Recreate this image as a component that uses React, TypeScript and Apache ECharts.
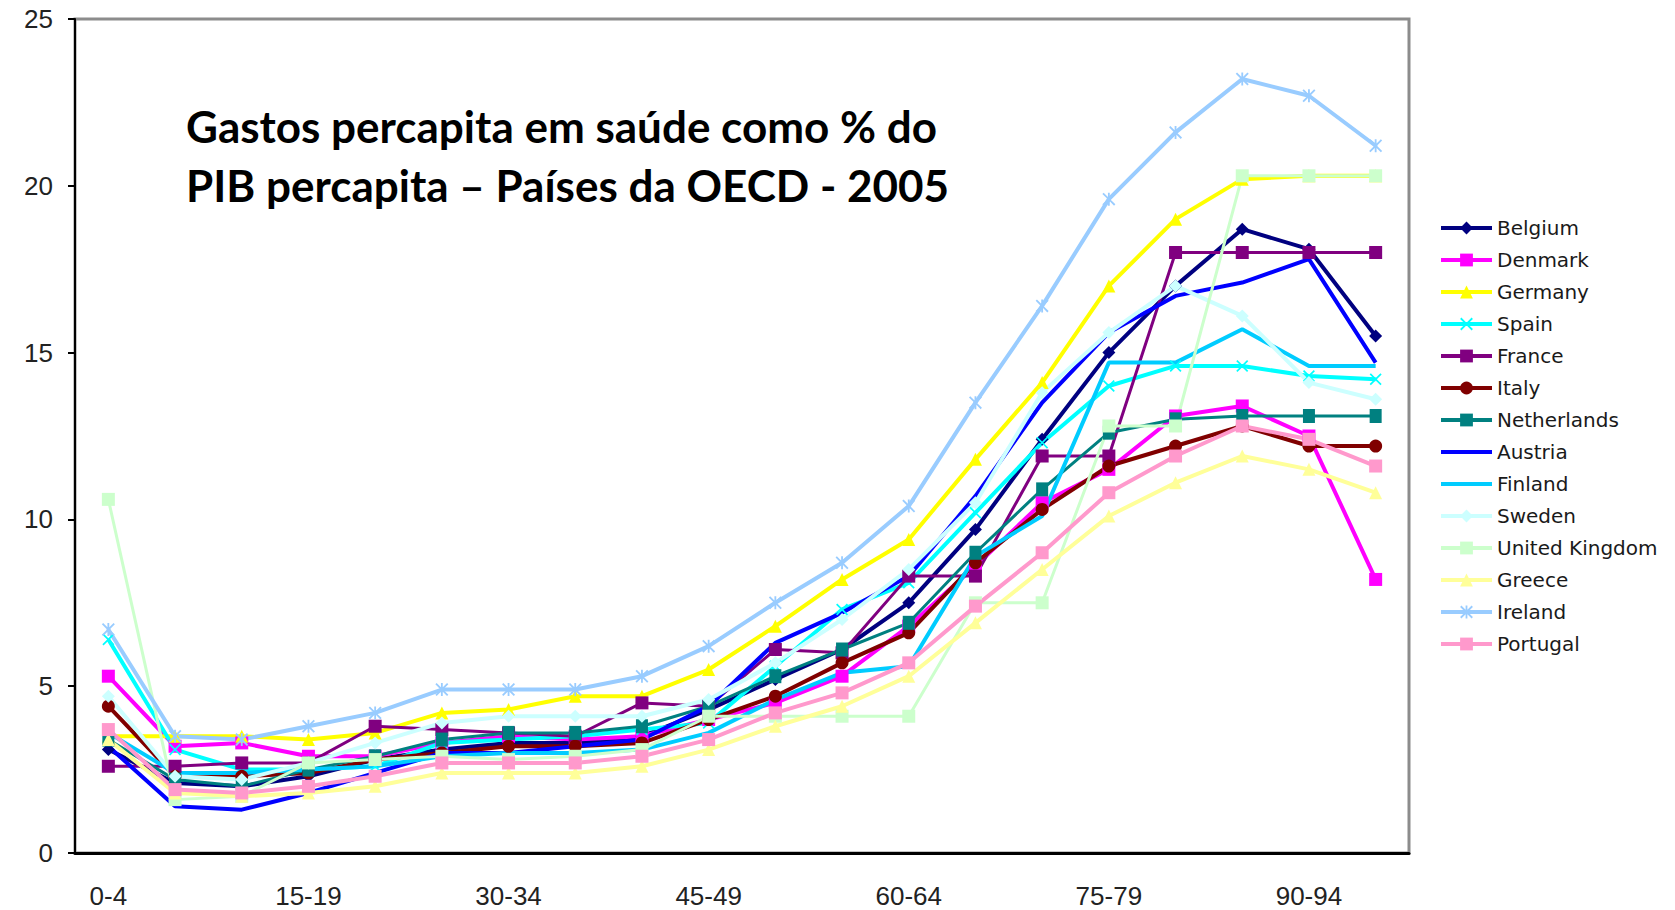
import React, { useEffect, useRef } from "react";
import * as echarts from "echarts";

const categories = [
  "0-4", "5-9", "10-14", "15-19", "20-24", "25-29", "30-34", "35-39", "40-44", "45-49",
  "50-54", "55-59", "60-64", "65-69", "70-74", "75-79", "80-84", "85-89", "90-94", "95+",
];
const yTicks = { min: 0, max: 25, interval: 5 };

const belgium = [3.1, 2.1, 2.0, 2.3, 2.8, 3.1, 3.3, 3.3, 3.5, 4.3, 5.2, 6.1, 7.5, 9.7, 12.4, 15.0, 17.0, 18.7, 18.1, 15.5];
const denmark = [5.3, 3.2, 3.3, 2.9, 2.9, 3.3, 3.5, 3.4, 3.5, 4.0, 4.5, 5.3, 6.8, 8.6, 10.5, 11.5, 13.1, 13.4, 12.5, 8.2];
const germany = [3.5, 3.5, 3.5, 3.4, 3.6, 4.2, 4.3, 4.7, 4.7, 5.5, 6.8, 8.2, 9.4, 11.8, 14.1, 17.0, 19.0, 20.2, 20.3, 20.3];
const spain = [6.4, 3.1, 2.5, 2.5, 2.6, 3.3, 3.4, 3.5, 3.7, 3.9, 5.6, 7.3, 8.1, 10.2, 12.3, 14.0, 14.6, 14.6, 14.3, 14.2];
const france = [2.6, 2.6, 2.7, 2.7, 3.8, 3.7, 3.6, 3.5, 4.5, 4.4, 6.1, 6.0, 8.3, 8.3, 11.9, 11.9, 18.0, 18.0, 18.0, 18.0];
const italy = [4.4, 2.3, 2.3, 2.4, 2.8, 3.0, 3.2, 3.2, 3.3, 4.0, 4.7, 5.7, 6.6, 8.7, 10.3, 11.6, 12.2, 12.8, 12.2, 12.2];
const netherlands = [3.4, 2.2, 2.0, 2.5, 2.9, 3.4, 3.6, 3.6, 3.8, 4.4, 5.3, 6.1, 6.9, 9.0, 10.9, 12.6, 13.0, 13.1, 13.1, 13.1];
const austria = [3.2, 1.4, 1.3, 1.8, 2.4, 3.0, 3.0, 3.2, 3.4, 4.4, 6.3, 7.2, 8.3, 10.7, 13.5, 15.6, 16.7, 17.1, 17.8, 14.7];
const finland = [3.6, 2.4, 2.4, 2.5, 2.6, 2.9, 3.0, 3.0, 3.1, 3.6, 4.6, 5.4, 5.6, 8.9, 10.1, 14.7, 14.7, 15.7, 14.6, 14.6];
const sweden = [4.7, 2.3, 2.2, 2.7, 3.3, 3.9, 4.1, 4.1, 4.1, 4.6, 5.7, 7.0, 8.5, 10.5, 13.8, 15.6, 17.0, 16.1, 14.1, 13.6];
const unitedKingdom = [10.6, 1.6, 1.7, 2.7, 2.8, 2.9, 2.8, 2.9, 3.1, 4.1, 4.1, 4.1, 4.1, 7.5, 7.5, 12.8, 12.8, 20.3, 20.3, 20.3];
const greece = [3.4, 1.8, 1.7, 1.8, 2.0, 2.4, 2.4, 2.4, 2.6, 3.1, 3.8, 4.4, 5.3, 6.9, 8.5, 10.1, 11.1, 11.9, 11.5, 10.8];
const ireland = [6.7, 3.5, 3.4, 3.8, 4.2, 4.9, 4.9, 4.9, 5.3, 6.2, 7.5, 8.7, 10.4, 13.5, 16.4, 19.6, 21.6, 23.2, 22.7, 21.2];
const portugal = [3.7, 1.9, 1.8, 2.0, 2.3, 2.7, 2.7, 2.7, 2.9, 3.4, 4.2, 4.8, 5.7, 7.4, 9.0, 10.8, 11.9, 12.8, 12.4, 11.6];

const titleLines = ["Gastos percapita em saúde como % do", "PIB percapita – Países da OECD - 2005"];

const X_SYM = "path://M0,1L1,0L5,4L9,0L10,1L6,5L10,9L9,10L5,6L1,10L0,9L4,5Z";
const STAR_SYM = "path://M0,1L1,0L4.3,3.3L4.3,0L5.7,0L5.7,3.3L9,0L10,1L6.4,4.6L6.4,5.4L10,9L9,10L5.7,6.7L5.7,10L4.3,10L4.3,6.7L1,10L0,9L3.6,5.4L3.6,4.6Z";
const BAR_SYM = "path://M4,0L6,0L6,10L4,10Z";
const PLAIN_LINE_ICON = "path://M0,0L0.01,0L0,0.01Z M0,6L51,6L51,10L0,10Z M51,16L50.99,16L51,15.99Z";

type Def = { name: string; data: number[]; color: string; symbol: string; size: number | number[]; width: number };

const defs: Def[] = [
  { name: "Belgium", data: belgium, color: "#000080", symbol: "diamond", size: 13, width: 4 },
  { name: "Denmark", data: denmark, color: "#FF00FF", symbol: "rect", size: 13, width: 4 },
  { name: "Germany", data: germany, color: "#FFFF00", symbol: "triangle", size: 13, width: 4 },
  { name: "Spain", data: spain, color: "#00FFFF", symbol: X_SYM, size: 12, width: 4 },
  { name: "France", data: france, color: "#800080", symbol: "rect", size: 13, width: 3 },
  { name: "Italy", data: italy, color: "#800000", symbol: "circle", size: 13, width: 4 },
  { name: "Netherlands", data: netherlands, color: "#008080", symbol: BAR_SYM, size: [12, 14], width: 3 },
  { name: "Austria", data: austria, color: "#0000FF", symbol: "none", size: 0, width: 4 },
  { name: "Finland", data: finland, color: "#00CCFF", symbol: "none", size: 0, width: 4 },
  { name: "Sweden", data: sweden, color: "#CCFFFF", symbol: "diamond", size: 13, width: 4 },
  { name: "United Kingdom", data: unitedKingdom, color: "#CCFFCC", symbol: "rect", size: 13, width: 3 },
  { name: "Greece", data: greece, color: "#FFFF99", symbol: "triangle", size: 13, width: 4 },
  { name: "Ireland", data: ireland, color: "#99CCFF", symbol: STAR_SYM, size: 13, width: 4 },
  { name: "Portugal", data: portugal, color: "#FF99CC", symbol: "rect", size: 13, width: 4 },
];

export default function App() {
  const ref = useRef<HTMLDivElement>(null);
  useEffect(() => {
    if (!ref.current) return;
    const chart = echarts.init(ref.current, null, { renderer: "svg" });
    chart.setOption({
      animation: false,
      backgroundColor: "#ffffff",
      grid: {
        left: 75,
        right: 266,
        top: 19,
        bottom: 57,
        show: true,
        borderColor: "#8c8c8c",
        borderWidth: 3,
        backgroundColor: "#ffffff",
      },
      legend: {
        orient: "vertical",
        left: 1434,
        top: 212,
        itemWidth: 51,
        itemHeight: 16,
        itemGap: 10,
        lineStyle: { width: 4 },
        textStyle: { fontFamily: "DejaVu Sans", fontSize: 20, lineHeight: 22, color: "#1a1a1a" },
        data: defs.map((d) =>
          d.symbol === "none"
            ? { name: d.name, icon: PLAIN_LINE_ICON, itemStyle: { color: d.color } }
            : { name: d.name }
        ),
      },
      xAxis: {
        type: "category",
        data: categories,
        boundaryGap: true,
        axisLine: { show: true, lineStyle: { color: "#000000", width: 3 } },
        axisTick: { show: false },
        axisLabel: {
          interval: 2,
          margin: 30,
          fontFamily: "Liberation Sans",
          fontSize: 26,
          color: "#222222",
        },
        splitLine: { show: false },
      },
      yAxis: {
        type: "value",
        min: yTicks.min,
        max: yTicks.max,
        interval: yTicks.interval,
        axisLine: { show: true, lineStyle: { color: "#000000", width: 2 } },
        axisTick: { show: true, length: 7, lineStyle: { color: "#000000", width: 2 } },
        axisLabel: {
          margin: 22,
          fontFamily: "Liberation Sans",
          fontSize: 26,
          color: "#222222",
        },
        splitLine: { show: false },
      },
      graphic: [
        {
          type: "text",
          left: 186,
          top: 96,
          z: 100,
          style: {
            text: titleLines.join("\n"),
            font: "bold 44px Lato",
            lineHeight: 59,
            fill: "#000000",
          },
        },
      ],
      series: defs.map((d) => ({
        name: d.name,
        type: "line",
        data: d.data,
        symbol: d.symbol,
        symbolSize: d.size,
        showSymbol: d.symbol !== "none",
        lineStyle: { color: d.color, width: d.width },
        itemStyle: { color: d.color, borderWidth: 0 },
        emphasis: { disabled: true },
      })),
    });
    return () => chart.dispose();
  }, []);
  return (
    <div
      ref={ref}
      style={{ position: "fixed", left: 0, top: 0, width: 1675, height: 910 }}
    />
  );
}
